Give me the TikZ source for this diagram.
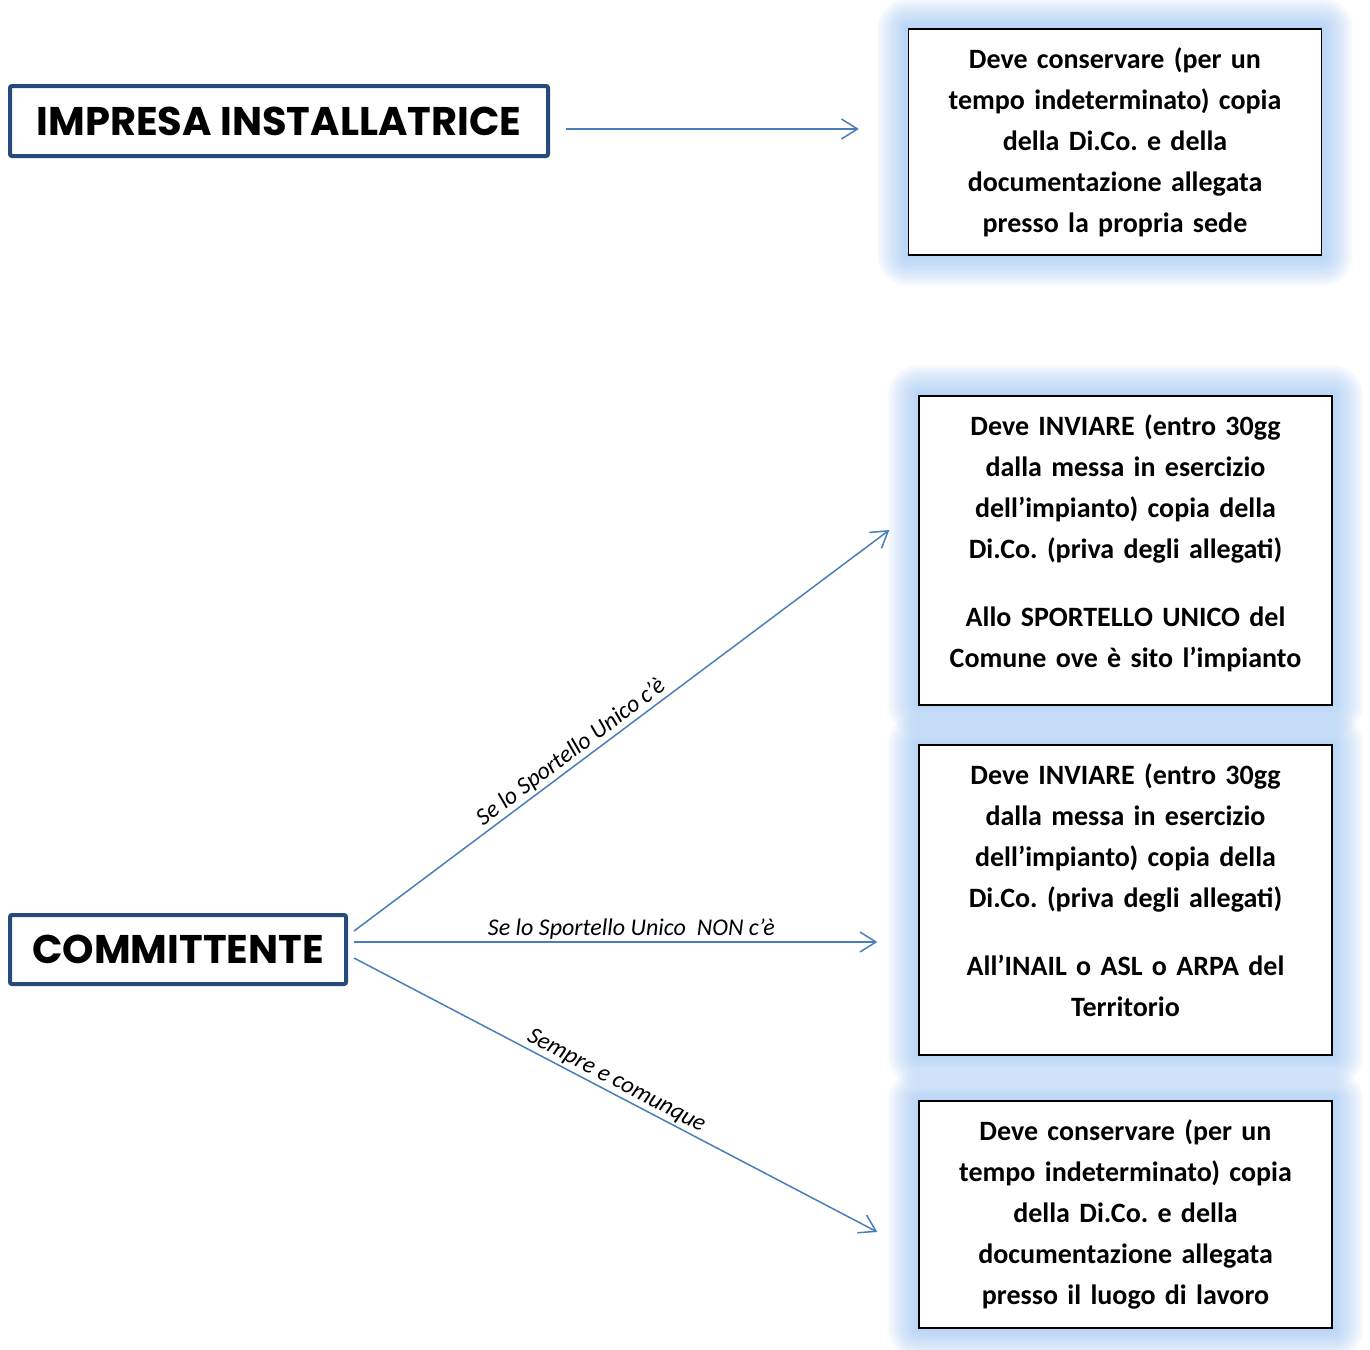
\documentclass[tikz,border=0pt]{standalone}
\usepackage{fontspec}
\setmainfont{Carlito}
\newfontfamily\titlefont{Poppins}
\usetikzlibrary{arrows.meta, calc, backgrounds}
\frenchspacing

\definecolor{linkblue}{RGB}{74,126,187}
\definecolor{frameblue}{RGB}{38,74,122}
\definecolor{glowblue}{RGB}{145,188,240}

\tikzset{
  titlebox/.style={draw=frameblue, line width=4pt, rounded corners=2pt, inner sep=0pt,
    font=\titlefont\bfseries\fontsize{40}{48}\selectfont},
  infobox/.style={draw=black, line width=1.3pt, fill=white, text width=405pt, align=center,
    inner sep=0pt, minimum width=413pt, font=\bfseries\fontsize{28}{41}\selectfont},
  link/.style={draw=linkblue, line width=1.5pt, -{Straight Barb[length=16pt,width=20pt]}},
  note/.style={font=\itshape\fontsize{24}{28}\selectfont, sloped, above, inner sep=2pt}
}

\begin{document}
\begin{tikzpicture}[x=1pt, y=-1pt]
\useasboundingbox (0,0) rectangle (1370,1349);

% left side
\node[titlebox, minimum width=538pt, minimum height=70pt] (impresa) at (279,121) {IMPRESA INSTALLATRICE};
\node[titlebox, minimum width=336pt, minimum height=69pt] (committente) at (178,949.5) {COMMITTENTE};

% right side
\node[infobox, minimum height=226pt] (sede) at (1115,142)
  {Deve conservare (per un\\ tempo indeterminato) copia\\ della Di.Co. e della\\ documentazione allegata\\ presso la propria sede};
\node[infobox, minimum height=309pt] (suap) at (1125.5,550.5)
  {Deve INVIARE (entro 30gg\\ dalla messa in esercizio\\ dell’impianto) copia della\\ Di.Co. (priva degli allegati)\\[27pt]
   Allo SPORTELLO UNICO del\\ Comune ove è sito l’impianto\\[-22pt]\mbox{}};
\node[infobox, minimum height=310pt] (inail) at (1125.5,900)
  {Deve INVIARE (entro 30gg\\ dalla messa in esercizio\\ dell’impianto) copia della\\ Di.Co. (priva degli allegati)\\[27pt]
   All’INAIL o ASL o ARPA del\\ Territorio\\[-22pt]\mbox{}};
\node[infobox, minimum height=227pt] (luogo) at (1125.5,1214.5)
  {Deve conservare (per un\\ tempo indeterminato) copia\\ della Di.Co. e della\\ documentazione allegata\\ presso il luogo di lavoro};

% glow behind the boxes
\begin{pgfonlayer}{background}
\foreach \n in {sede,suap,inail,luogo}
  \foreach \gw in {3,6,...,30}
    \fill[glowblue, fill opacity=0.09, rounded corners=\gw pt]
      ($(\n.north west)+(-\gw,-\gw)$) rectangle ($(\n.south east)+(\gw,\gw)$);
\end{pgfonlayer}

% connectors
\draw[link] ($(impresa.east)+(16,8)$) -- ($(impresa.east -| sede.west)+(-49,8)$);
\draw[link] ($(committente.east)+(6,-18.5)$) -- node[note, pos=0.42] {Se lo Sportello Unico c’è} ($(suap.west)+(-29,-20.5)$);
\draw[link] ($(committente.east)+(6,-7.5)$) -- node[note, pos=0.53] {Se lo Sportello Unico\ \ NON c’è} ($(committente.east -| inail.west)+(-41,-7.5)$);
\draw[link] ($(committente.east)+(6,8.5)$) -- node[note, pos=0.49] {Sempre e comunque} ($(luogo.west)+(-41,17.5)$);
\end{tikzpicture}
\end{document}
